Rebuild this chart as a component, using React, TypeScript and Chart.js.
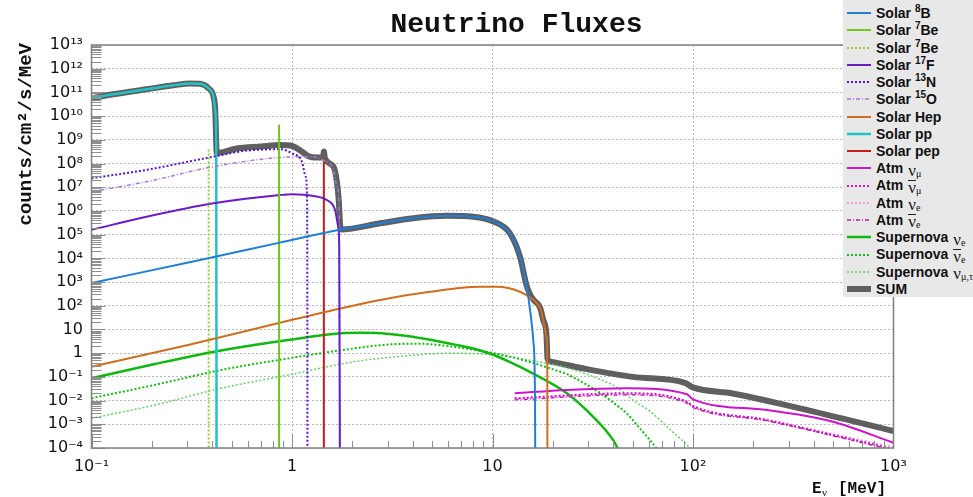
import React, { useEffect, useRef } from "react";
import { Chart, registerables } from "chart.js";
Chart.register(...registerables);

// ---------- tick labels ----------
const xTickExponents = [-1, 0, 1, 2, 3];
const xTickLabels = ["10⁻¹", "1", "10", "10²", "10³"];
const yTickExponents = [-4, -3, -2, -1, 0, 1, 2, 3, 4, 5, 6, 7, 8, 9, 10, 11, 12, 13];
const yTickLabels = ["10⁻⁴", "10⁻³", "10⁻²", "10⁻¹", "1", "10", "10²", "10³", "10⁴", "10⁵", "10⁶", "10⁷", "10⁸", "10⁹", "10¹⁰", "10¹¹", "10¹²", "10¹³"];

// ---------- data (E in MeV, flux in counts/cm2/s/MeV) ----------
const b8E = [0.1, 0.348, 0.87, 1.73, 2.75, 4.03, 5.91, 8.02, 10.1, 12.2, 13.7, 14.8, 15.4, 16.0, 16.3, 16.35];
const b8Flux = [910, 8.5e3, 4.6e4, 1.6e5, 3.0e5, 4.9e5, 6.2e5, 5.7e5, 3.6e5, 1.15e5, 1.2e4, 630, 66, 3, 0.01, 1e-6];

const be7LineE = [0.862, 0.862];
const be7LineFlux = [1e-6, 4.3e9];
const be7LowE = [0.384, 0.384];
const be7LowFlux = [1e-6, 4.8e8];

const f17E = [0.1, 0.188, 0.406, 0.87, 1.0, 1.28, 1.49, 1.64, 1.70, 1.72, 1.735];
const f17Flux = [1.6e5, 5.7e5, 2.1e6, 4.7e6, 5.1e6, 4.3e6, 2.9e6, 1.1e6, 2.2e5, 3e4, 1e-6];

const n13E = [0.1, 0.188, 0.406, 0.594, 0.87, 1.0, 1.12, 1.17, 1.19, 1.195];
const n13Flux = [2.4e7, 5.4e7, 1.95e8, 3.5e8, 4e8, 2.7e8, 1.2e8, 2.8e7, 2e6, 1e-6];

const o15E = [0.1, 0.188, 0.406, 0.87, 1.28, 1.43, 1.61, 1.68, 1.72, 1.73];
const o15Flux = [6.5e6, 1.7e7, 7.4e7, 1.8e8, 1.95e8, 1.4e8, 5.4e7, 1e7, 1e6, 1e-6];

const hepE = [0.1, 0.303, 0.99, 2.75, 4.88, 8.67, 10.5, 13.7, 16.0, 17.3, 17.9, 18.6, 18.75, 18.8];
const hepFlux = [0.27, 2.2, 25, 174, 390, 630, 630, 390, 174, 78, 25, 5, 1, 1e-6];

const ppE = [0.1, 0.128, 0.188, 0.256, 0.31, 0.348, 0.383, 0.406, 0.414, 0.419, 0.4205];
const ppFlux = [5.6e10, 8.3e10, 1.35e11, 2.0e11, 2.4e11, 2.3e11, 1.5e11, 6.6e10, 1.8e10, 7e8, 1e-6];

const pepE = [1.442, 1.442];
const pepFlux = [1e-6, 1.6e8];

const atmNumuE = [12.9, 23.5, 46.9, 93.3, 100, 234, 499, 1000];
const atmNumuFlux = [0.0204, 0.0282, 0.033, 0.0186, 0.0113, 0.004, 0.00128, 1.66e-4];
const atmNumubarE = [12.9, 46.9, 93.3, 100, 234, 499, 1000];
const atmNumubarFlux = [0.0126, 0.0204, 0.0089, 0.0059, 0.0015, 3.5e-4, 9e-5];
const atmNueE = [12.9, 46.9, 93.3, 100, 234, 499, 1000];
const atmNueFlux = [0.0118, 0.019, 0.0084, 0.0056, 0.0016, 3.9e-4, 1.1e-4];
const atmNuebarE = [12.9, 46.9, 93.3, 100, 234, 499, 1000];
const atmNuebarFlux = [0.0108, 0.0175, 0.0078, 0.0052, 0.0014, 3.3e-4, 8e-5];

const snNueE = [0.1, 0.207, 0.41, 0.955, 1.76, 2.2, 2.79, 4.41, 6.48, 8.7, 9.86, 12.0, 15.0, 23.5, 31.7, 39.9, 42, 44];
const snNueFlux = [0.087, 0.35, 1.16, 3.6, 6.9, 7.2, 6.9, 4.3, 2.3, 1.3, 0.92, 0.45, 0.18, 0.0204, 0.0021, 2.2e-4, 1e-4, 4e-5];
const snNuebarE = [0.1, 0.207, 0.443, 0.955, 2.06, 3.38, 4.3, 5.35, 9.5, 12.0, 15.0, 19.0, 23.5, 28.0, 34.4, 41.0, 46.9, 53.0, 59.0, 65.5, 70];
const snNuebarFlux = [0.0126, 0.046, 0.195, 0.6, 1.6, 2.45, 2.5, 2.23, 1.1, 0.75, 0.45, 0.24, 0.13, 0.06, 0.021, 0.007, 0.0028, 8.5e-4, 3e-4, 1e-4, 4e-5];
const snNumutauE = [0.1, 0.207, 0.443, 0.955, 2.06, 3.65, 6.0, 9.5, 15.0, 23.5, 34.4, 42.0, 50.2, 62.0, 74.1, 96.6, 100];
const snNumutauFlux = [0.0018, 0.0065, 0.033, 0.12, 0.44, 0.76, 0.99, 0.89, 0.52, 0.24, 0.079, 0.035, 0.0105, 0.0032, 7.9e-4, 1e-4, 7e-5];

const sumE = [0.1, 0.128, 0.188, 0.256, 0.31, 0.348, 0.383, 0.406, 0.414, 0.419, 0.4205, 0.53, 0.7, 0.87, 1.0, 1.12, 1.2, 1.35, 1.43, 1.442, 1.46, 1.61, 1.67, 1.71, 1.74, 1.76, 2.75, 4.03, 5.91, 8.02, 10.1, 12.2, 13.7, 14.8, 15.4, 16.0, 17.3, 17.9, 18.6, 18.8, 19.4, 28.2, 50.2, 91.2, 100, 158, 342, 1000];
const sumFlux = [5.6e10, 8.3e10, 1.35e11, 2.0e11, 2.4e11, 2.3e11, 1.5e11, 6.6e10, 1.8e10, 7e8, 2.8e8, 4.3e8, 5.2e8, 6e8, 5.5e8, 3.2e8, 2.1e8, 1.8e8, 1.8e8, 3.2e8, 1.65e8, 7.4e7, 2e7, 2.9e6, 2.2e5, 1.65e5, 3.0e5, 4.9e5, 6.2e5, 5.7e5, 3.6e5, 1.15e5, 1.2e4, 700, 300, 180, 80, 25, 5.5, 0.6, 0.44, 0.23, 0.10, 0.056, 0.036, 0.020, 0.0047, 5.2e-4];

type Series = { label: string; e: number[]; f: number[]; color: string; width: number; dash: number[]; vertical?: boolean };

const series: Series[] = [
  { label: "Solar 8B", e: b8E, f: b8Flux, color: "#1f7fd5", width: 2, dash: [] },
  { label: "Solar 7Be", e: be7LineE, f: be7LineFlux, color: "#6fc81e", width: 2, dash: [], vertical: true },
  { label: "Solar 7Be", e: be7LowE, f: be7LowFlux, color: "#9acd32", width: 2, dash: [2, 2], vertical: true },
  { label: "Solar 17F", e: f17E, f: f17Flux, color: "#6a1cc6", width: 2, dash: [] },
  { label: "Solar 13N", e: n13E, f: n13Flux, color: "#5a14c8", width: 2, dash: [2, 2] },
  { label: "Solar 15O", e: o15E, f: o15Flux, color: "#a57ad8", width: 1.5, dash: [4, 2, 1, 2] },
  { label: "Solar Hep", e: hepE, f: hepFlux, color: "#d06e1e", width: 2, dash: [] },
  { label: "Solar pp", e: ppE, f: ppFlux, color: "#1fc4c8", width: 2.5, dash: [] },
  { label: "Solar pep", e: pepE, f: pepFlux, color: "#c81c1c", width: 2, dash: [], vertical: true },
  { label: "Atm numu", e: atmNumuE, f: atmNumuFlux, color: "#cc14cc", width: 2, dash: [] },
  { label: "Atm numubar", e: atmNumubarE, f: atmNumubarFlux, color: "#cc14cc", width: 2, dash: [2, 2] },
  { label: "Atm nue", e: atmNueE, f: atmNueFlux, color: "#e38ae3", width: 1.5, dash: [2, 2] },
  { label: "Atm nuebar", e: atmNuebarE, f: atmNuebarFlux, color: "#c0189c", width: 1.5, dash: [4, 2, 1, 2] },
  { label: "Supernova nue", e: snNueE, f: snNueFlux, color: "#12b812", width: 2.5, dash: [] },
  { label: "Supernova nuebar", e: snNuebarE, f: snNuebarFlux, color: "#16b816", width: 2, dash: [2, 2] },
  { label: "Supernova numutau", e: snNumutauE, f: snNumutauFlux, color: "#66d066", width: 1.5, dash: [2, 2] },
  { label: "SUM", e: sumE, f: sumFlux, color: "#5f5f5f", width: 6, dash: [] },
];

const Sup = ({ t }: { t: string }) => (
  <span style={{ fontSize: 10, position: "relative", top: -6 }}>{t}</span>
);
const Nu = ({ sub, bar }: { sub: string; bar?: boolean }) => (
  <span style={{ fontFamily: '"Liberation Serif", serif', fontWeight: "normal", fontSize: 17, marginLeft: 5, display: "inline-flex", alignItems: "flex-start", verticalAlign: "middle" }}>
    <span style={{ display: "inline-block", lineHeight: "12px", paddingTop: 1, borderTop: bar ? "1px solid #222" : "1px solid transparent" }}>ν</span>
    <span style={{ fontSize: 10, position: "relative", top: 6, lineHeight: "10px" }}>{sub}</span>
  </span>
);

const legendLabels = [
  <>{"Solar\u00a0"}<Sup t="8" />B</>,
  <>{"Solar\u00a0"}<Sup t="7" />Be</>,
  <>{"Solar\u00a0"}<Sup t="7" />Be</>,
  <>{"Solar\u00a0"}<Sup t="17" />F</>,
  <>{"Solar\u00a0"}<Sup t="13" />N</>,
  <>{"Solar\u00a0"}<Sup t="15" />O</>,
  <>Solar Hep</>,
  <>Solar pp</>,
  <>Solar pep</>,
  <>Atm<Nu sub="μ" /></>,
  <>Atm<Nu sub="μ" bar /></>,
  <>Atm<Nu sub="e" /></>,
  <>Atm<Nu sub="e" bar /></>,
  <>Supernova<Nu sub="e" /></>,
  <>Supernova<Nu sub="e" bar /></>,
  <>Supernova<Nu sub="μ,τ" /></>,
  <>SUM</>,
];

const decorPlugin = {
  id: "decor",
  afterDatasetsDraw(chart: any) {
    const { ctx, chartArea: a, scales } = chart;
    const xs = scales.x;
    const ys = scales.y;
    ctx.save();
    ctx.strokeStyle = "#8f8f8f";
    ctx.lineWidth = 1;
    ctx.beginPath();
    for (let i = 0; i < yTickExponents.length - 1; i++) {
      for (let m = 1; m <= 9; m++) {
        const v = m * Math.pow(10, yTickExponents[i]);
        const y = Math.round(ys.getPixelForValue(v)) + 0.5;
        const len = m === 1 ? 14 : 10;
        ctx.moveTo(a.left, y);
        ctx.lineTo(a.left + len, y);
      }
    }
    for (let i = 0; i < xTickExponents.length - 1; i++) {
      for (let m = 1; m <= 9; m++) {
        const v = m * Math.pow(10, xTickExponents[i]);
        const x = Math.round(xs.getPixelForValue(v)) + 0.5;
        const len = m === 1 ? 14 : 7;
        ctx.moveTo(x, a.bottom);
        ctx.lineTo(x, a.bottom - len);
      }
    }
    ctx.stroke();
    ctx.strokeStyle = "#808080";
    ctx.lineWidth = 1.5;
    ctx.strokeRect(a.left, a.top, a.right - a.left, a.bottom - a.top);
    ctx.restore();
  },
  afterDraw(chart: any) {
    const { ctx } = chart;
    ctx.save();
    ctx.fillStyle = "#111";
    ctx.textBaseline = "alphabetic";
    ctx.font = 'bold 28px "Liberation Mono", monospace';
    ctx.textAlign = "center";
    ctx.fillText("Neutrino Fluxes", 516.5, 32);

    ctx.save();
    ctx.translate(31, 43);
    ctx.rotate(-Math.PI / 2);
    ctx.textAlign = "right";
    ctx.font = 'bold 19px "Liberation Mono", monospace';
    ctx.fillText("counts/cm²/s/MeV", 0, 0);
    ctx.restore();

    ctx.textAlign = "left";
    ctx.font = 'bold 16px "Liberation Mono", monospace';
    ctx.fillText("E", 812, 493);
    ctx.font = '11px "Liberation Serif", serif';
    ctx.fillText("ν", 822, 496);
    ctx.font = 'bold 16px "Liberation Mono", monospace';
    ctx.fillText("[MeV]", 838, 493);
    ctx.restore();
  },
};

export default function App() {
  const canvasRef = useRef<HTMLCanvasElement | null>(null);

  useEffect(() => {
    document.body.style.margin = "0";
    const canvas = canvasRef.current;
    if (!canvas) return;
    const chart = new Chart(canvas, {
      type: "line",
      data: {
        datasets: series.map((s) => ({
          label: s.label,
          data: s.e.map((x, i) => ({ x, y: s.f[i] })),
          borderColor: s.color,
          backgroundColor: s.color,
          borderWidth: s.width,
          borderDash: s.dash,
          borderCapStyle: "butt",
          borderJoinStyle: "round",
          pointRadius: 0,
          pointHoverRadius: 0,
          fill: false,
          tension: s.vertical ? 0 : 0.4,
          cubicInterpolationMode: s.vertical ? "default" : "monotone",
        })),
      } as any,
      options: {
        animation: false,
        responsive: false,
        events: [],
        layout: { padding: { left: 0, right: 79.5, top: 45, bottom: 0 } },
        plugins: { legend: { display: false }, tooltip: { enabled: false }, title: { display: false } },
        scales: {
          x: {
            type: "logarithmic",
            min: 0.1,
            max: 1000,
            afterBuildTicks: (scale: any) => {
              scale.ticks = xTickExponents.map((e) => ({ value: Math.pow(10, e) }));
            },
            afterFit: (scale: any) => {
              scale.height = 49;
            },
            ticks: {
              autoSkip: false,
              maxRotation: 0,
              padding: 9,
              color: "#111",
              font: { family: '"DejaVu Sans", sans-serif', size: 16 },
              callback: (_v: any, i: number) => xTickLabels[i],
            },
            grid: { color: "#b8b8b8", lineWidth: 1, drawTicks: false },
            border: { display: false, dash: [2, 2] },
          },
          y: {
            type: "logarithmic",
            min: 1e-4,
            max: 1e13,
            afterBuildTicks: (scale: any) => {
              scale.ticks = yTickExponents.map((e) => ({ value: Math.pow(10, e) }));
            },
            afterFit: (scale: any) => {
              scale.width = 91.5;
            },
            ticks: {
              autoSkip: false,
              padding: 8.5,
              color: "#111",
              font: { family: '"DejaVu Sans", sans-serif', size: 16 },
              callback: (_v: any, i: number) => yTickLabels[i],
            },
            grid: { color: "#b8b8b8", lineWidth: 1, drawTicks: false },
            border: { display: false, dash: [2, 2] },
          },
        },
      } as any,
      plugins: [decorPlugin],
    });
    return () => chart.destroy();
  }, []);

  return (
    <div style={{ position: "relative", width: 973, height: 497, overflow: "hidden", background: "#fff" }}>
      <canvas ref={canvasRef} width={973} height={497} style={{ width: 973, height: 497, display: "block" }} />
      <div
        style={{
          position: "absolute",
          left: 843,
          top: 0,
          width: 130,
          height: 297,
          background: "#e8e8e8",
          paddingTop: 4.5,
          boxSizing: "border-box",
          fontFamily: '"Liberation Sans", Arial, sans-serif',
          fontWeight: "bold",
          fontSize: 14,
          color: "#111",
        }}
      >
        {series.map((s, i) => (
          <div key={i} style={{ display: "flex", alignItems: "center", height: 17.25, whiteSpace: "nowrap" }}>
            <svg width={24} height={8} style={{ marginLeft: 4, marginRight: 5, flex: "none" }}>
              <line
                x1={0}
                y1={4}
                x2={24}
                y2={4}
                stroke={s.color}
                strokeWidth={s.label === "SUM" ? 6 : s.width}
                strokeDasharray={s.dash.length ? s.dash.join(",") : undefined}
              />
            </svg>
            <span>{legendLabels[i]}</span>
          </div>
        ))}
      </div>
    </div>
  );
}
